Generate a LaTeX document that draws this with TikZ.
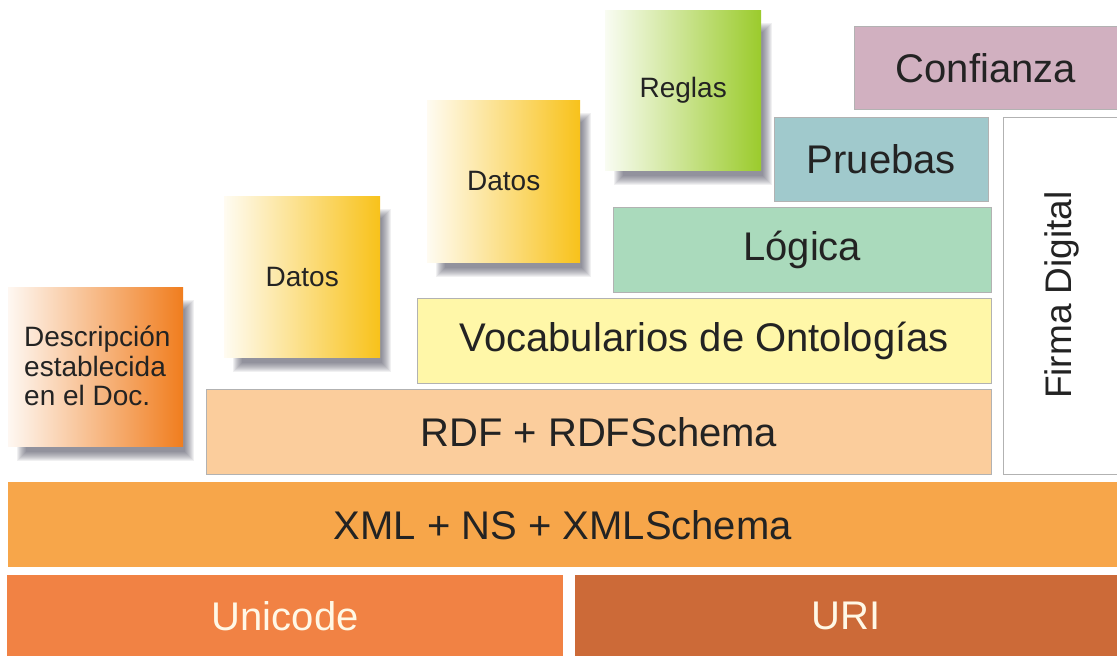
\documentclass[tikz,border=0pt]{standalone}
\usepackage{fontspec}
\setmainfont{Liberation Sans}
\definecolor{cUni}{RGB}{241,130,68}
\definecolor{cUri}{RGB}{204,106,56}
\definecolor{cXml}{RGB}{247,166,74}
\definecolor{cRdf}{RGB}{251,205,156}
\definecolor{cVoc}{RGB}{255,247,168}
\definecolor{cLog}{RGB}{170,218,188}
\definecolor{cPru}{RGB}{160,201,204}
\definecolor{cCon}{RGB}{209,176,192}
\definecolor{cDesc}{RGB}{240,125,30}
\definecolor{cDatos}{RGB}{248,194,26}
\definecolor{cReg}{RGB}{155,203,44}
\definecolor{cTxt}{RGB}{35,35,35}
\definecolor{cLight}{RGB}{255,248,230}
\definecolor{cShadow}{RGB}{60,60,80}
\newcommand\softshadow[4]{%
  \foreach \k in {0,...,9}{%
    \fill[cShadow, opacity=0.075] ({#1+9+\k},{#2+13+\k}) rectangle ({#3+11-\k},{#4+15-\k});
  }%
}
\tikzset{
  layer/.style={rectangle, inner sep=0pt, anchor=north west, draw=black!30, line width=0.6pt,
    font=\fontsize{40}{44}\selectfont, text=cTxt},
  base/.style={rectangle, inner sep=0pt, anchor=north west, draw=none,
    font=\fontsize{40}{44}\selectfont, text=cLight},
  card/.style={rectangle, inner sep=0pt, anchor=north west, draw=none,
    left color=white!94!#1, right color=#1,
    font=\fontsize{28}{29.5}\selectfont, text=cTxt}
}
\begin{document}
\begin{tikzpicture}[x=1pt,y=-1pt]
\useasboundingbox (0,0) rectangle (1117,656);
\fill[white] (0,0) rectangle (1117,656);
% bottom layers
\node[base, fill=cUni, minimum width=556pt, minimum height=82pt] (uni) at (7,575) {Unicode};
\node[base, fill=cUri, minimum width=542pt, minimum height=82pt] (uri) at (575,575) {URI};
\node[layer, draw=none, fill=cXml, minimum width=1109pt, minimum height=85pt] (xml) at (8,482) {XML + NS + XMLSchema};
\node[layer, fill=cRdf, minimum width=785pt, minimum height=85pt] (rdf) at (206,389) {RDF + RDFSchema};
\node[layer, fill=cVoc, minimum width=574pt, minimum height=85pt] (voc) at (417,298) {Vocabularios de Ontologías};
\node[layer, fill=cLog, minimum width=378pt, minimum height=85pt] (log) at (613,207) {Lógica};
% shadows of cards
\softshadow{8}{287}{183}{446}
\softshadow{224}{196}{380}{357}
\softshadow{427}{100}{580}{262}
\softshadow{605}{10}{761}{170}
% cards
\node[card=cDesc, minimum width=175pt, minimum height=159pt] (desc) at (8,287) {};
\node[anchor=west, align=left, font=\fontsize{28}{29.5}\selectfont, text=cTxt, inner sep=0pt] (desct) at (24,366) {Descripción\\establecida\\en el Doc.};
\node[card=cDatos, minimum width=156pt, minimum height=161pt] (d1) at (224,196) {Datos};
\node[card=cDatos, minimum width=153pt, minimum height=162pt] (d2) at (427,100) {Datos};
\node[card=cReg, minimum width=156pt, minimum height=160pt] (reg) at (605,10) {Reglas};
% upper layers
\node[layer, fill=cPru, minimum width=214pt, minimum height=84pt] (pru) at (774,117) {Pruebas};
\node[layer, fill=cCon, minimum width=263pt, minimum height=83pt] (con) at (854,26) {Confianza};
\node[layer, fill=white, minimum width=125pt, minimum height=357pt] (firma) at (1003,117) {};
\node[rotate=90, font=\fontsize{37}{40}\selectfont, text=cTxt, inner sep=0pt] (firmat) at (1062,295) {Firma Digital};
\end{tikzpicture}
\end{document}
